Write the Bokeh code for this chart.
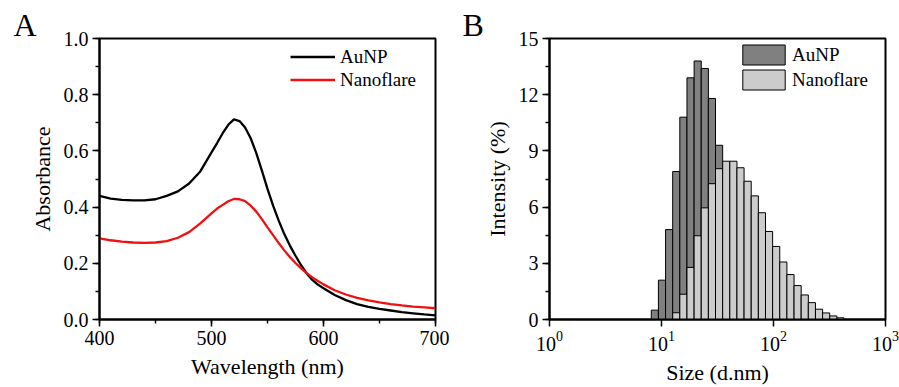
import numpy as np
from bokeh.plotting import figure
from bokeh.layouts import row
from bokeh.models import (ColumnDataSource, Legend, LegendItem, Title, SingleIntervalTicker,
                          FixedTicker, LogTickFormatter, PrintfTickFormatter, Range1d)
from bokeh.embed import file_html
from bokeh.resources import INLINE

# ---------------- Panel A data: UV-vis absorbance ----------------
wavelength = [400, 410, 420, 430, 440, 450, 460, 470, 480, 490, 500, 505, 510, 515, 520,
              525, 530, 535, 540, 545, 550, 555, 560, 565, 570, 575, 580, 585, 590, 595,
              600, 610, 620, 630, 640, 650, 660, 670, 680, 690, 700]
aunp_abs = [0.440, 0.430, 0.426, 0.424, 0.424, 0.428, 0.440, 0.456, 0.484, 0.527, 0.595,
            0.628, 0.663, 0.693, 0.712, 0.706, 0.683, 0.645, 0.592, 0.530, 0.465, 0.405,
            0.352, 0.304, 0.263, 0.227, 0.193, 0.164, 0.141, 0.124, 0.111, 0.087, 0.069,
            0.055, 0.045, 0.038, 0.032, 0.026, 0.022, 0.018, 0.015]
nanoflare_abs = [0.289, 0.282, 0.277, 0.274, 0.273, 0.274, 0.279, 0.291, 0.311, 0.342, 0.378,
                 0.395, 0.408, 0.421, 0.429, 0.428, 0.421, 0.405, 0.384, 0.357, 0.328, 0.300,
                 0.272, 0.246, 0.222, 0.201, 0.182, 0.165, 0.150, 0.137, 0.125, 0.104, 0.089,
                 0.077, 0.068, 0.061, 0.055, 0.050, 0.046, 0.043, 0.040]

# ---------------- Panel B data: DLS size distribution ----------------
sizes = [8.721, 10.10, 11.70, 13.54, 15.69, 18.17, 21.04, 24.36, 28.21, 32.67, 37.84, 43.82,
         50.75, 58.77, 68.06, 78.82, 91.28, 105.7, 122.4, 141.8, 164.2, 190.1, 220.2, 255.0,
         295.3, 342.0, 396.1]
aunp_int = [0.5, 2.1, 4.8, 7.9, 10.8, 12.9, 13.8, 13.4, 11.8, 9.3, 0, 0,
            0, 0, 0, 0, 0, 0, 0, 0, 0, 0, 0, 0, 0, 0, 0]
nanoflare_int = [0, 0, 0, 0.36, 1.35, 2.78, 4.47, 5.96, 7.25, 8.05, 8.45, 8.45,
                 8.10, 7.38, 6.60, 5.70, 4.70, 3.90, 3.07, 2.40, 1.81, 1.31, 0.90, 0.55,
                 0.35, 0.19, 0.09]

FONT = "Liberation Serif"


def style(p):
    p.outline_line_color = "black"
    p.outline_line_width = 2
    p.outline_line_alpha = 1
    p.grid.visible = False
    p.background_fill_color = "white"
    p.border_fill_color = "white"
    for ax in (p.xaxis[0], p.yaxis[0]):
        ax.axis_line_width = 2
        ax.axis_line_color = "black"
        ax.major_tick_line_width = 1.5
        ax.minor_tick_line_width = 1.5
        ax.major_tick_line_color = "black"
        ax.minor_tick_line_color = "black"
        ax.major_tick_in = 0
        ax.major_tick_out = 7
        ax.minor_tick_in = 0
        ax.minor_tick_out = 4
        ax.major_label_text_font = FONT
        ax.major_label_text_font_size = "20px"
        ax.major_label_text_color = "black"
        ax.major_label_standoff = 4
        ax.axis_label_text_font = FONT
        ax.axis_label_text_font_size = "22px"
        ax.axis_label_text_font_style = "normal"
        ax.axis_label_text_color = "black"
        ax.axis_label_standoff = 6


def panel_title(letter, offset):
    return Title(text=letter, align="left", offset=offset, standoff=-9,
                 text_font=FONT, text_font_size="32px", text_font_style="normal",
                 text_color="black")


# ---------------- Panel A ----------------
pA = figure(width=449, height=387, x_range=Range1d(400, 700), y_range=Range1d(0, 1.0),
            output_backend="svg", toolbar_location=None, title=panel_title("A", -86),
            min_border_left=99, min_border_right=14, min_border_top=38, min_border_bottom=66)
style(pA)
pA.xaxis[0].ticker = SingleIntervalTicker(interval=100, num_minor_ticks=2)
pA.yaxis[0].ticker = SingleIntervalTicker(interval=0.2, num_minor_ticks=2)
pA.yaxis[0].formatter = PrintfTickFormatter(format="%.1f")
pA.xaxis[0].axis_label = "Wavelength (nm)"
pA.yaxis[0].axis_label = "Absorbance"

rA1 = pA.line(wavelength, aunp_abs, line_color="black", line_width=2.3)
rA2 = pA.line(wavelength, nanoflare_abs, line_color="#f01010", line_width=2.3)

legA = Legend(items=[LegendItem(label="AuNP", renderers=[rA1]),
                     LegendItem(label="Nanoflare", renderers=[rA2])],
              location=(191, 228), border_line_color=None, background_fill_alpha=0,
              padding=0, margin=0, spacing=0, glyph_width=45, glyph_height=23,
              label_height=23, label_standoff=5, label_text_font=FONT,
              label_text_font_size="19px", label_text_color="black")
pA.add_layout(legA)

# ---------------- Panel B ----------------
s = np.array(sizes)
mids = np.sqrt(s[:-1] * s[1:])
left_edges = np.concatenate([[s[0] ** 2 / mids[0]], mids])
right_edges = np.concatenate([mids, [s[-1] ** 2 / mids[-1]]])


def src(vals):
    v = np.array(vals, dtype=float)
    m = v > 0
    return ColumnDataSource(dict(left=left_edges[m], right=right_edges[m], top=v[m],
                                 bottom=np.zeros(m.sum())))


pB = figure(width=450, height=387, x_axis_type="log", x_range=Range1d(1, 1000),
            y_range=Range1d(0, 15), output_backend="svg", toolbar_location=None,
            title=panel_title("B", -87),
            min_border_left=100, min_border_right=14, min_border_top=38, min_border_bottom=66)
style(pB)
pB.xaxis[0].ticker = FixedTicker(ticks=[1, 10, 100, 1000], minor_ticks=[])
pB.xaxis[0].formatter = LogTickFormatter()
pB.yaxis[0].ticker = SingleIntervalTicker(interval=3, num_minor_ticks=2)
pB.xaxis[0].axis_label = "Size (d.nm)"
pB.yaxis[0].axis_label = "Intensity (%)"

rB1 = pB.quad(left="left", right="right", top="top", bottom="bottom", source=src(aunp_int),
              fill_color="#808080", line_color="black", line_width=1)
rB2 = pB.quad(left="left", right="right", top="top", bottom="bottom", source=src(nanoflare_int),
              fill_color="#cccccc", line_color="black", line_width=1)

legB = Legend(items=[LegendItem(label="AuNP", renderers=[rB1]),
                     LegendItem(label="Nanoflare", renderers=[rB2])],
              location=(188, 227), border_line_color=None, background_fill_alpha=0,
              padding=0, margin=0, spacing=0, glyph_width=53, glyph_height=25,
              label_height=25, label_standoff=2, label_text_font=FONT,
              label_text_font_size="19px", label_text_color="black")
pB.add_layout(legB)

layout = row(pA, pB)
open("out.html", "w").write(file_html(layout, INLINE))
